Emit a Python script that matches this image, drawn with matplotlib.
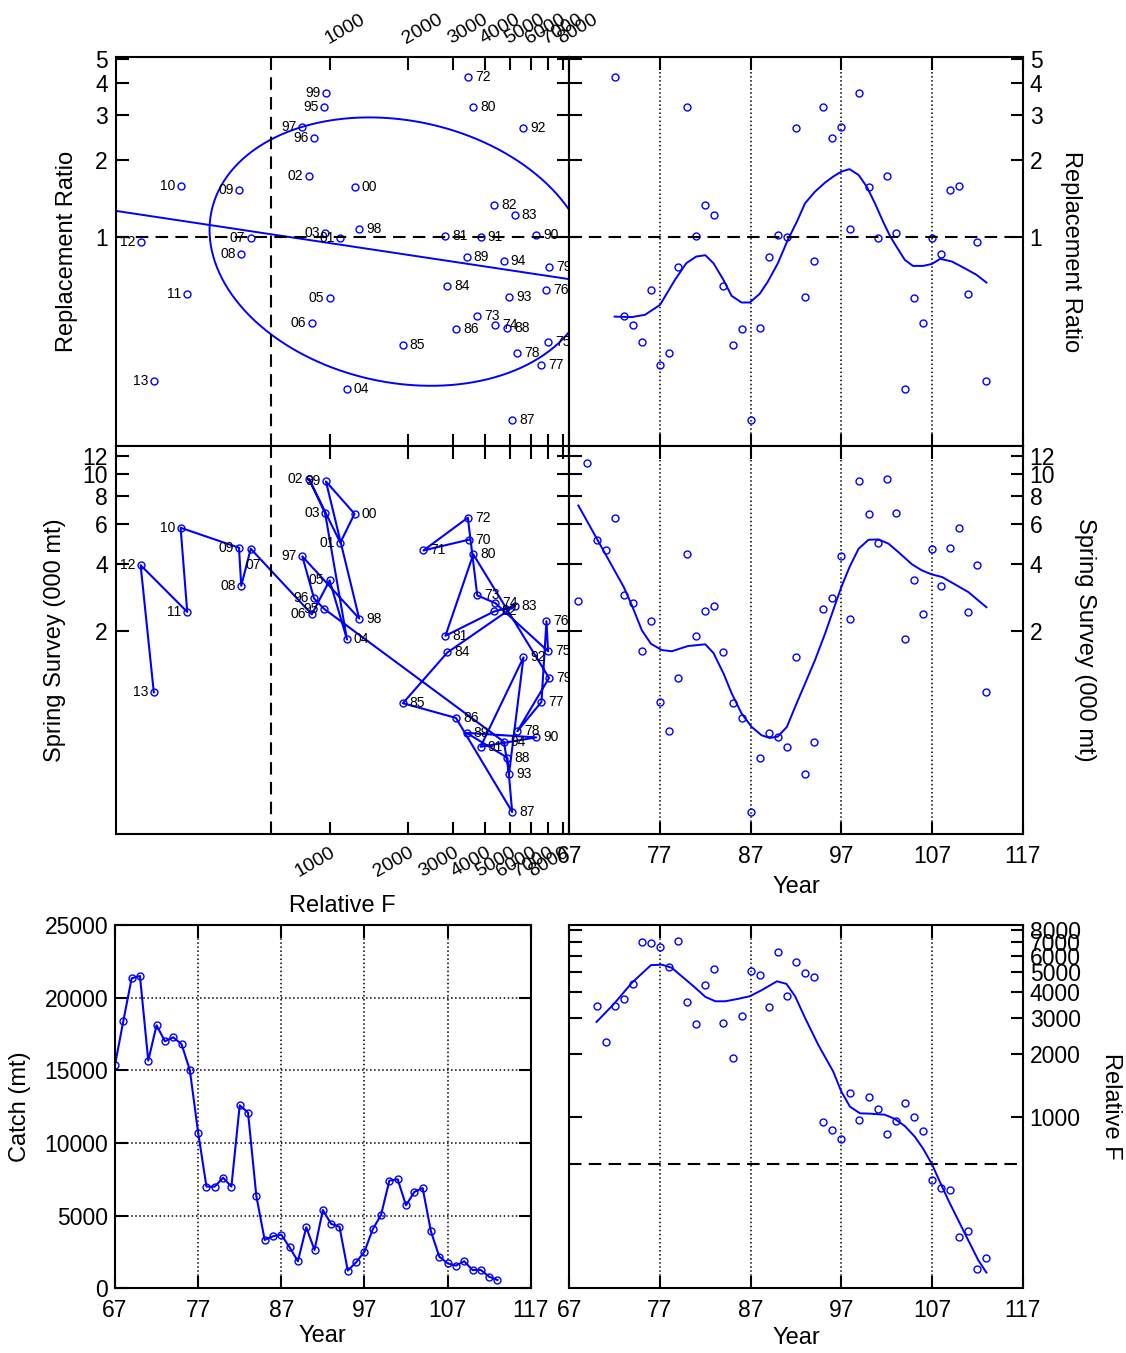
import numpy as np
import matplotlib
matplotlib.use('Agg')
import matplotlib.pyplot as plt
from matplotlib.ticker import FixedLocator, FixedFormatter, NullLocator

plt.rcParams.update({'font.family': ['Liberation Sans', 'DejaVu Sans'], 'font.size': 16})

# anos: 67 = 1967 ... 113 = 2013
anos_catch = np.arange(67, 114)
catch = [15370, 18390, 21330, 21490, 15670, 18100, 17000, 17270, 16810, 15020,
         10710, 7000, 7000, 7610, 7000, 12590, 12090, 6350, 3330, 3580,
         3690, 2820, 1860, 4200, 2640, 5390, 4430, 4240, 1220, 1790,
         2520, 4060, 5050, 7410, 7500, 5710, 6630, 6900, 3920, 2180,
         1720, 1560, 1860, 1260, 1260, 800, 570]

anos_f = np.arange(70, 114)
rel_f = [3440, 2300, 3420, 3720, 4370, 7000, 6900, 6600, 5320, 7060,
         3590, 2800, 4320, 5190, 2850, 1915, 3075, 5080, 4870, 3380,
         6290, 3830, 5620, 4940, 4720, 946, 866, 780, 1296, 963,
         1243, 1095, 827, 956, 1162, 995, 849, 492, 452, 443,
         263, 279, 184, 207]

anos_rr = np.arange(72, 114)
rep_ratio = [4.25, 0.488, 0.450, 0.384, 0.619, 0.312, 0.350, 0.759, 3.23, 1.009,
             1.33, 1.22, 0.642, 0.375, 0.435, 0.190, 0.439, 0.835, 1.015, 1.00,
             2.68, 0.578, 0.805, 3.22, 2.43, 2.70, 1.07, 3.67, 1.57, 0.986,
             1.735, 1.031, 0.253, 0.573, 0.457, 0.986, 0.853, 1.525, 1.585, 0.596,
             0.956, 0.2715]

anos_ss = np.arange(68, 114)
spring = [2.74, 11.2, 5.11, 4.58, 6.41, 2.89, 2.67, 1.63, 2.22, 0.970,
          0.718, 1.24, 4.40, 1.91, 2.45, 2.59, 1.61, 0.957, 0.823, 0.314,
          0.547, 0.706, 0.674, 0.612, 1.53, 0.464, 0.644, 2.52, 2.80, 4.31,
          2.28, 9.29, 6.67, 4.96, 9.55, 6.71, 1.84, 3.37, 2.38, 4.66,
          3.19, 4.71, 5.78, 2.44, 3.94, 1.07]

# curvas suavizadas
rr_suave_ano = [72, 73.9, 75.35, 77, 78.65, 79.9, 81, 82, 82.9, 84, 84.9, 86, 86.9, 88,
                88.9, 90, 91.1, 92.1, 93, 94.1, 95.2, 96.1, 97, 97.9, 98.9, 99.8, 100.7,
                101.6, 102.4, 103.3, 104, 104.9, 106, 107, 107.9, 109.2, 110.6, 111.9, 113]
rr_suave = [0.485, 0.483, 0.493, 0.539, 0.676, 0.786, 0.835, 0.845, 0.786, 0.676, 0.585,
            0.551, 0.551, 0.596, 0.666, 0.786, 0.971, 1.145, 1.352, 1.502, 1.629, 1.72,
            1.80, 1.84, 1.746, 1.571, 1.352, 1.145, 1.0, 0.887, 0.81, 0.767, 0.767, 0.781,
            0.818, 0.798, 0.751, 0.708, 0.660]

ss_suave_ano = [68.0, 73.0, 73.9, 75.0, 76.0, 77.2, 78.3, 80.1, 82.0, 82.9, 84.0, 84.9, 86.0,
                87.1, 88.2, 89.1, 90.0, 91.0, 91.9, 93.0, 94.1, 95.2, 96.1, 97.0, 97.9,
                98.9, 100.0, 101.1, 102.2, 103.3, 104.8, 105.9, 107.0, 108.1, 109.5, 111.0, 113.0]
ss_suave = [7.26, 3.15, 2.61, 2.02, 1.76, 1.65, 1.63, 1.72, 1.75, 1.60, 1.30, 1.06, 0.861,
            0.751, 0.689, 0.67, 0.68, 0.751, 0.921, 1.17, 1.49, 1.95, 2.48, 3.15, 3.86,
            4.66, 5.11, 5.13, 4.91, 4.50, 3.97, 3.73, 3.58, 3.49, 3.24, 2.99, 2.56]

f_suave_ano = [70.0, 71.85, 73.9, 76.0, 77.2, 78.3, 79.4, 80.7, 82.0, 83.1, 84.2, 85.6, 86.9,
               88.2, 89.9, 90.95, 91.9, 93.0, 94.45, 96.1, 97.0, 97.95, 99.05, 100.15, 101.8,
               102.9, 104.0, 105.1, 106.0, 106.95, 107.7, 108.8, 109.9, 111.0, 112.1, 113.0]
f_suave = [2873, 3484, 4442, 5410, 5440, 5253, 4780, 4276, 3800, 3617, 3617, 3715, 3825,
           4090, 4520, 4390, 3825, 3004, 2229, 1654, 1322, 1118, 1038, 1034, 1022,
           975, 901, 800, 702, 594, 502, 394, 315, 252, 202, 176]

# referencias
F_REF = 587
R_REF = 1.0
# reta ajustada log10(R) = a + b*log10(F)
FIT_A = 0.4317
FIT_B = -0.1525
# elipse em escala log (centro F, R; meia-largura log; fase em graus)
ELIP_CENTRO = (1867, 0.873)
ELIP_SEMI = (0.739, 0.527)
ELIP_FASE = 80.7

# rotulos a esquerda do ponto
esq_topo = [95, 96, 97, 99, 101, 102, 103, 105, 106, 107, 108, 109, 110, 111, 112, 113]
esq_meio = [95, 96, 97, 99, 101, 102, 103, 105, 106, 108, 109, 110, 111, 112, 113]

F_LIM = (147.7, 8462)
R_LIM = (0.1512, 5.087)
S_LIM = (0.2504, 13.43)
ANO_LIM = (67, 117)
ANO_TICKS = [67, 77, 87, 97, 107, 117]
F_TICKS = [1000, 2000, 3000, 4000, 5000, 6000, 7000, 8000]
R_TICKS = [1, 2, 3, 4, 5]
S_TICKS = [2, 4, 6, 8, 10, 12]

AZUL = '#0000ff'
W, H = 1126, 1353


def ret(x0, y0, x1, y1):
    return [x0 / W, 1 - y1 / H, (x1 - x0) / W, (y1 - y0) / H]


def eixo_log(axis, ticks):
    axis.set_major_locator(FixedLocator(ticks))
    axis.set_major_formatter(FixedFormatter([str(t) for t in ticks]))
    axis.set_minor_locator(NullLocator())


def estilo(ax):
    for s in ax.spines.values():
        s.set_linewidth(1.5)
    ax.tick_params(which='major', direction='in', length=9, width=1.5,
                   top=True, right=True, bottom=True, left=True, labelsize=16.5, pad=6)


def rotulo_y(ax, texto, x, lado='left'):
    ax.set_ylabel(texto, fontsize=17, rotation=90 if lado == 'left' else 270)
    ax.yaxis.set_label_coords(x, 0.5)
    ax.yaxis.label.set_va('center')
    ax.yaxis.label.set_ha('center')


def rotulo_x(ax, texto, y):
    ax.set_xlabel(texto, fontsize=17)
    ax.xaxis.set_label_coords(0.5, y)
    ax.xaxis.label.set_va('center')


def anota(ax, xs, ys, anos, esquerda, especial={}):
    for x, y, a in zip(xs, ys, anos):
        txt = '%02d' % (a % 100)
        if a in especial:
            dx, dy, ha = especial[a]
        elif a in esquerda:
            dx, dy, ha = -4, 0, 'right'
        else:
            dx, dy, ha = 5, 0, 'left'
        ax.annotate(txt, (x, y), xytext=(dx, dy), textcoords='offset points',
                    ha=ha, va='center', fontsize=10)


fig = plt.figure(figsize=(W / 100, H / 100), dpi=100)

ax_tl = fig.add_axes(ret(116, 56.7, 569.3, 445.5))
ax_tr = fig.add_axes(ret(569.3, 56.7, 1022.7, 445.5))
ax_ml = fig.add_axes(ret(116, 445.5, 569.3, 834))
ax_mr = fig.add_axes(ret(569.3, 445.5, 1022.7, 834))
ax_bl = fig.add_axes(ret(115, 925, 530.7, 1288.3))
ax_br = fig.add_axes(ret(569.3, 925, 1022.7, 1288.3))

mk = dict(marker='o', ms=5, mfc='none', mec=AZUL, mew=1.0)

# ---------------- superior esquerdo: R x F ----------------
f_rr = [rel_f[list(anos_f).index(a)] for a in anos_rr]
ax_tl.set_xscale('log')
ax_tl.set_yscale('log')
ax_tl.plot(f_rr, rep_ratio, ls='none', **mk)
t = np.linspace(0, 2 * np.pi, 300)
lf = np.log10(ELIP_CENTRO[0]) + ELIP_SEMI[0] * np.cos(t)
lr = np.log10(ELIP_CENTRO[1]) - ELIP_SEMI[1] * np.cos(t - np.radians(ELIP_FASE))
ax_tl.plot(10 ** lf, 10 ** lr, color=AZUL, lw=1.4)
xr = np.array(F_LIM)
ax_tl.plot(xr, 10 ** (FIT_A + FIT_B * np.log10(xr)), color=AZUL, lw=1.4)
ax_tl.axhline(R_REF, color='k', lw=1.5, dashes=(6, 3.5))
ax_tl.axvline(F_REF, color='k', lw=1.5, dashes=(6, 3.5))
anota(ax_tl, f_rr, rep_ratio, anos_rr, esq_topo)
ax_tl.set_xlim(F_LIM)
ax_tl.set_ylim(R_LIM)
eixo_log(ax_tl.xaxis, F_TICKS)
eixo_log(ax_tl.yaxis, R_TICKS)
estilo(ax_tl)
ax_tl.tick_params(axis='x', labelbottom=False, labeltop=True, labelsize=14, pad=7)
plt.setp(ax_tl.get_xticklabels(), rotation=30, ha='left', va='bottom', rotation_mode='anchor')
rotulo_y(ax_tl, 'Replacement Ratio', -0.108)

# ---------------- superior direito: R x ano ----------------
ax_tr.set_yscale('log')
ax_tr.plot(anos_rr, rep_ratio, ls='none', **mk)
ax_tr.plot(rr_suave_ano, rr_suave, color=AZUL, lw=1.4)
ax_tr.axhline(R_REF, color='k', lw=1.5, dashes=(6, 3.5))
ax_tr.set_xlim(ANO_LIM)
ax_tr.set_ylim(R_LIM)
ax_tr.set_xticks(ANO_TICKS)
eixo_log(ax_tr.yaxis, R_TICKS)
ax_tr.grid(axis='x', color='k', ls=':', lw=1.1)
estilo(ax_tr)
ax_tr.tick_params(labelbottom=False, labelleft=False, labelright=True, pad=5)
rotulo_y(ax_tr, 'Replacement Ratio', 1.107, 'right')

# ---------------- meio esquerdo: S x F ----------------
f_ss = [rel_f[list(anos_f).index(a)] for a in anos_f]
s_f = [spring[list(anos_ss).index(a)] for a in anos_f]
ax_ml.set_xscale('log')
ax_ml.set_yscale('log')
ax_ml.plot(f_ss, s_f, color=AZUL, lw=1.5, **mk)
ax_ml.axvline(F_REF, color='k', lw=1.5, dashes=(6, 3.5))
anota(ax_ml, f_ss, s_f, anos_f, esq_meio, especial={107: (2, -12, 'center')})
ax_ml.set_xlim(F_LIM)
ax_ml.set_ylim(S_LIM)
eixo_log(ax_ml.xaxis, F_TICKS)
eixo_log(ax_ml.yaxis, S_TICKS)
estilo(ax_ml)
ax_ml.tick_params(axis='x', labelsize=14, pad=7)
plt.setp(ax_ml.get_xticklabels(), rotation=30, ha='right', va='top', rotation_mode='anchor')
rotulo_y(ax_ml, 'Spring Survey (000 mt)', -0.135)
rotulo_x(ax_ml, 'Relative F', -0.185)

# ---------------- meio direito: S x ano ----------------
ax_mr.set_yscale('log')
ax_mr.plot(anos_ss, spring, ls='none', **mk)
ax_mr.plot(ss_suave_ano, ss_suave, color=AZUL, lw=1.4)
ax_mr.set_xlim(ANO_LIM)
ax_mr.set_ylim(S_LIM)
ax_mr.set_xticks(ANO_TICKS)
eixo_log(ax_mr.yaxis, S_TICKS)
ax_mr.grid(axis='x', color='k', ls=':', lw=1.1)
estilo(ax_mr)
ax_mr.tick_params(labelleft=False, labelright=True, pad=5)
ax_mr.tick_params(axis='x', pad=8)
rotulo_y(ax_mr, 'Spring Survey (000 mt)', 1.137, 'right')
rotulo_x(ax_mr, 'Year', -0.136)

# ---------------- inferior esquerdo: captura ----------------
ax_bl.plot(anos_catch, catch, color=AZUL, lw=1.5, **mk)
ax_bl.set_xlim(ANO_LIM)
ax_bl.set_ylim(0, 25000)
ax_bl.set_xticks(ANO_TICKS)
ax_bl.set_yticks([0, 5000, 10000, 15000, 20000, 25000])
ax_bl.grid(True, color='k', ls=':', lw=1.1)
estilo(ax_bl)
ax_bl.tick_params(pad=5)
ax_bl.tick_params(axis='x', pad=8)
rotulo_y(ax_bl, 'Catch (mt)', -0.2285)
rotulo_x(ax_bl, 'Year', -0.13)

# ---------------- inferior direito: F x ano ----------------
ax_br.set_yscale('log')
ax_br.plot(anos_f, rel_f, ls='none', **mk)
ax_br.plot(f_suave_ano, f_suave, color=AZUL, lw=1.4)
ax_br.axhline(F_REF, color='k', lw=1.5, dashes=(6, 3.5))
ax_br.set_xlim(ANO_LIM)
ax_br.set_ylim(F_LIM)
ax_br.set_xticks(ANO_TICKS)
eixo_log(ax_br.yaxis, F_TICKS)
ax_br.grid(axis='x', color='k', ls=':', lw=1.1)
estilo(ax_br)
ax_br.tick_params(labelleft=False, labelright=True, pad=5)
ax_br.tick_params(axis='x', pad=8)
rotulo_y(ax_br, 'Relative F', 1.195, 'right')
rotulo_x(ax_br, 'Year', -0.137)

fig.savefig('out.png', dpi=100)
